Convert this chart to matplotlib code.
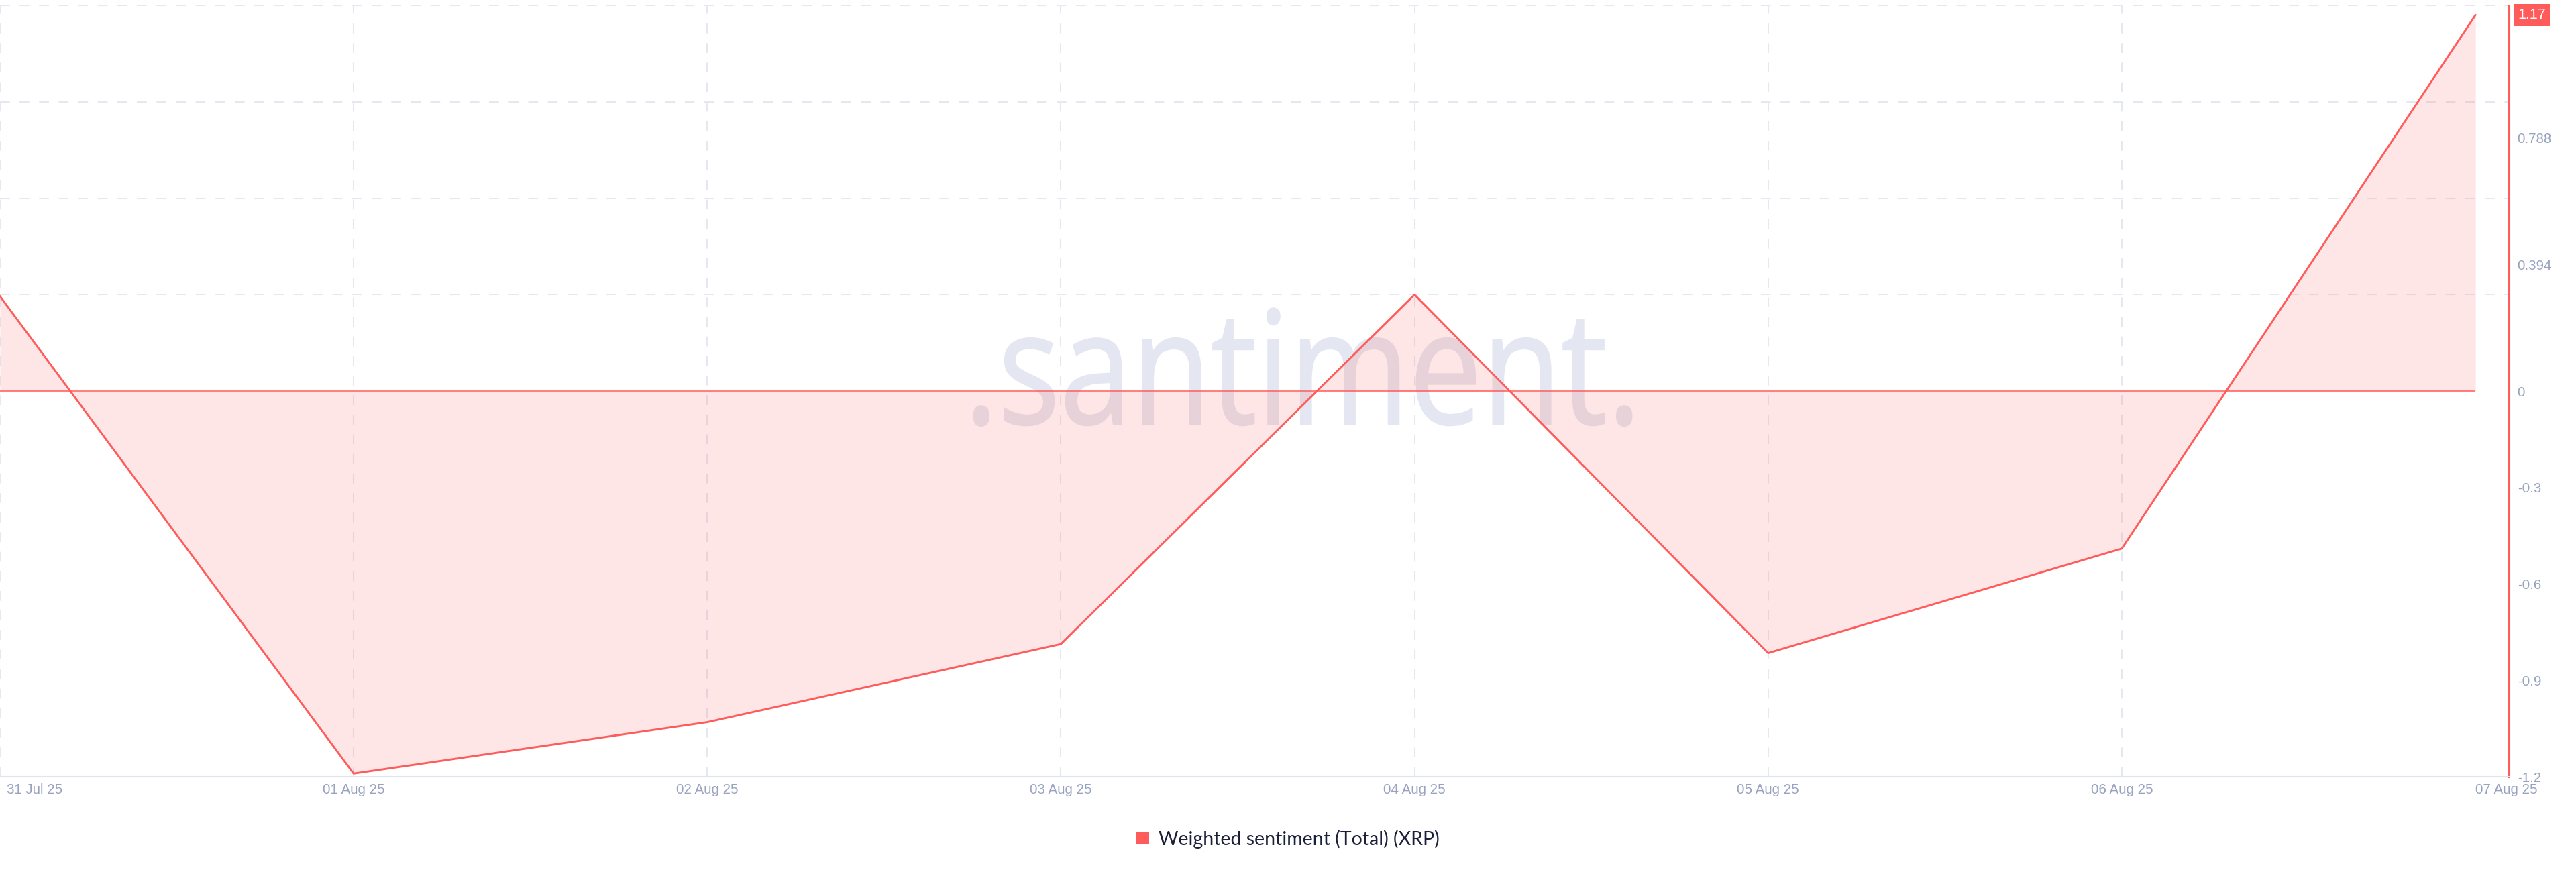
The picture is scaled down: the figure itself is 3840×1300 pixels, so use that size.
import numpy as np
import matplotlib
matplotlib.use("Agg")
import matplotlib.pyplot as plt
from matplotlib.patches import Patch, PathPatch
from matplotlib.textpath import TextPath
from matplotlib.font_manager import FontProperties
from matplotlib.transforms import Affine2D, ScaledTranslation, blended_transform_factory

# Data
dates = ["31 Jul 25", "01 Aug 25", "02 Aug 25", "03 Aug 25",
         "04 Aug 25", "05 Aug 25", "06 Aug 25", "07 Aug 25"]
sentiment = [0.295, -1.19, -1.03, -0.787, 0.30, -0.815, -0.49, 1.17]
ytick_vals = [-1.2, -0.9, -0.6, -0.3, 0, 0.394, 0.788]
ytick_labels = ["-1.2", "-0.9", "-0.6", "-0.3", "0", "0.394", "0.788"]
grid_vals = [-0.9, -0.6, -0.3, 0, 0.3, 0.6, 0.9, 1.2]
series_name = "Weighted sentiment (Total) (XRP)"

red = "#ff5b5b"
grid_col = "#e5e8f1"
tick_col = "#99a3bf"
text_col = "#1b1f38"

plt.rcParams['font.family'] = ['Liberation Sans', 'DejaVu Sans']

fig = plt.figure(figsize=(38.4, 13), dpi=100)
ax = fig.add_axes([0, 0.1092, 0.974, 0.8846])

x = np.arange(len(dates))

# watermark, horizontally condensed text
tp = TextPath((0, 0), ".santiment.", size=235, prop=FontProperties(family="Open Sans"))
ext = tp.get_extents()
tr = Affine2D().translate(-(ext.x0 + ext.width / 2), 0).scale(0.82, 1).translate(1942, 1300 - 632)
wm = PathPatch(tr.transform_path(tp), facecolor="#e4e7f1", edgecolor="#e4e7f1",
               linewidth=1.5, transform=None, zorder=0)
wm.set_clip_on(False)
ax.add_artist(wm)

ax.fill_between(x, sentiment, 0, color=red, alpha=0.15, linewidth=0, zorder=2)
ax.hlines(0, x[0], x[-1], color=red, linewidth=1.1, zorder=3)
ax.plot(x, sentiment, color=red, linewidth=2.1, zorder=4)

ax.set_xlim(0, 7.095)
ax.set_ylim(-1.2, 1.2)

# grid
ax.set_yticks(grid_vals, minor=True)
ax.tick_params(axis="y", which="minor", length=0)
ax.grid(True, axis="y", which="minor", color=grid_col, linewidth=1.5, linestyle=(0, (7, 7)), zorder=1)
ax.set_xticks(x)
ax.set_xticklabels(dates)
ax.grid(True, axis="x", which="major", color=grid_col, linewidth=1.5, linestyle=(0, (7, 7)), zorder=1)
ax.xaxis.get_gridlines()[-1].set_visible(False)
ax.set_axisbelow(True)

ax.yaxis.tick_right()
ax.set_yticks(ytick_vals)
ax.set_yticklabels(ytick_labels)
ax.tick_params(axis="y", which="major", length=0, pad=9, labelsize=14.8, labelcolor=tick_col)
ax.tick_params(axis="x", length=0, pad=7, labelsize=14.8, labelcolor=tick_col)
xl = ax.get_xticklabels()
xl[0].set_ha("left")
xl[0].set_transform(xl[0].get_transform() + ScaledTranslation(0.1, 0, fig.dpi_scale_trans))
xl[-1].set_ha("left")

for s in ["top", "left"]:
    ax.spines[s].set_visible(False)
ax.spines["bottom"].set_color("#e0e4ee")
ax.spines["bottom"].set_linewidth(1.5)
ax.spines["right"].set_color(red)
ax.spines["right"].set_linewidth(2.2)

# last value badge
trans = blended_transform_factory(ax.transAxes, ax.transData)
ax.text(1.0035, sentiment[-1], f"{sentiment[-1]:.2f}", transform=trans, ha="left", va="center",
        color="white", fontsize=15.5,
        bbox=dict(boxstyle="square,pad=0.28", facecolor=red, edgecolor="none"))

fig.legend(handles=[Patch(facecolor=red, label=series_name)], loc="center",
           bbox_to_anchor=(0.5, 1 - 1251 / 1300), frameon=False,
           handlelength=0.65, handleheight=0.65, handletextpad=0.5, labelcolor=text_col,
           prop={"family": "Lato", "size": 20.5})

fig.savefig("out.png", dpi=100)
